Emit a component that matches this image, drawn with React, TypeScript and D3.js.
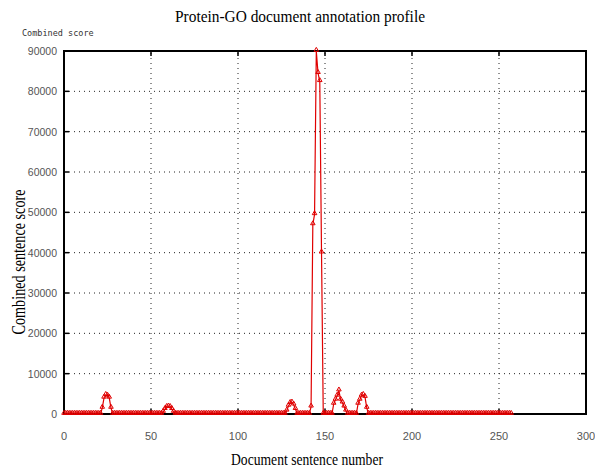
import React, { useEffect, useRef } from 'react';
import * as d3 from 'd3';

// combined sentence score per sentence (index = sentence number 0..257)
const scores: number[] = [
  0, 0, 0, 0, 0, 0, 0, 0, 0, 0, 0, 0, 0, 0, 0, 0, 0, 0, 0, 0,
  0, 0, 1500, 4000, 4700, 4500, 4000, 1500, 0, 0, 0, 0, 0, 0, 0, 0, 0, 0, 0, 0,
  0, 0, 0, 0, 0, 0, 0, 0, 0, 0, 0, 0, 0, 0, 0, 0, 0, 500, 1200, 1700,
  1800, 1700, 1200, 500, 0, 0, 0, 0, 0, 0, 0, 0, 0, 0, 0, 0, 0, 0, 0, 0,
  0, 0, 0, 0, 0, 0, 0, 0, 0, 0, 0, 0, 0, 0, 0, 0, 0, 0, 0, 0,
  0, 0, 0, 0, 0, 0, 0, 0, 0, 0, 0, 0, 0, 0, 0, 0, 0, 0, 0, 0,
  0, 0, 0, 0, 0, 0, 0, 0, 800, 2000, 2700, 2800, 2300, 1200, 0, 0, 0, 0, 0, 0,
  0, 0, 1800, 47000, 49500, 90000, 84500, 82500, 40000, 0, 0, 0, 0, 0, 0, 2500, 3500, 4500, 5800, 3500,
  2800, 1800, 800, 0, 0, 0, 0, 0, 0, 2500, 3500, 4500, 4700, 4200, 1500, 0, 0, 0, 0, 0,
  0, 0, 0, 0, 0, 0, 0, 0, 0, 0, 0, 0, 0, 0, 0, 0, 0, 0, 0, 0,
  0, 0, 0, 0, 0, 0, 0, 0, 0, 0, 0, 0, 0, 0, 0, 0, 0, 0, 0, 0,
  0, 0, 0, 0, 0, 0, 0, 0, 0, 0, 0, 0, 0, 0, 0, 0, 0, 0, 0, 0,
  0, 0, 0, 0, 0, 0, 0, 0, 0, 0, 0, 0, 0, 0, 0, 0, 0, 0,
];

const xTicks = [0, 50, 100, 150, 200, 250, 300];
const yTicks = [0, 10000, 20000, 30000, 40000, 50000, 60000, 70000, 80000, 90000];

const App = () => {
  const svgRef = useRef<SVGSVGElement>(null);

  useEffect(() => {
    if (!svgRef.current) return;
    d3.select(svgRef.current).selectAll('*').remove();

    const width = 595;
    const height = 468;
    const margin = { top: 51, right: 9, bottom: 54, left: 64 };

    const svg = d3.select(svgRef.current)
      .attr('width', width)
      .attr('height', height);

    svg.append('rect')
      .attr('width', width)
      .attr('height', height)
      .attr('fill', '#fff');

    const x = d3.scaleLinear().domain([0, 300]).range([margin.left, width - margin.right]);
    const y = d3.scaleLinear().domain([0, 90000]).range([height - margin.bottom, margin.top]);

    // dotted grid
    const grid = svg.append('g')
      .attr('stroke', '#222')
      .attr('stroke-width', 1)
      .attr('stroke-dasharray', '1,4');
    xTicks.slice(1, -1).forEach(t => {
      grid.append('line')
        .attr('x1', x(t)).attr('x2', x(t))
        .attr('y1', y(0)).attr('y2', y(90000));
    });
    yTicks.slice(1, -1).forEach(t => {
      grid.append('line')
        .attr('x1', x(0)).attr('x2', x(300))
        .attr('y1', y(t)).attr('y2', y(t));
    });

    // frame
    svg.append('rect')
      .attr('x', x(0))
      .attr('y', y(90000))
      .attr('width', x(300) - x(0))
      .attr('height', y(0) - y(90000))
      .attr('fill', 'none')
      .attr('stroke', '#000')
      .attr('stroke-width', 2);

    // ticks
    const ticks = svg.append('g').attr('stroke', '#000').attr('stroke-width', 1.5);
    xTicks.forEach(t => {
      ticks.append('line').attr('x1', x(t)).attr('x2', x(t)).attr('y1', y(0)).attr('y2', y(0) - 5);
      ticks.append('line').attr('x1', x(t)).attr('x2', x(t)).attr('y1', y(90000)).attr('y2', y(90000) + 5);
    });
    yTicks.forEach(t => {
      ticks.append('line').attr('x1', x(0)).attr('x2', x(0) + 5).attr('y1', y(t)).attr('y2', y(t));
      ticks.append('line').attr('x1', x(300)).attr('x2', x(300) - 5).attr('y1', y(t)).attr('y2', y(t));
    });

    // tick labels
    svg.append('g')
      .selectAll('text')
      .data(xTicks)
      .enter()
      .append('text')
      .attr('x', d => x(d))
      .attr('y', y(0) + 26)
      .attr('text-anchor', 'middle')
      .style('font-family', 'Liberation Sans')
      .style('font-size', '11px')
      .attr('fill', '#555')
      .text(d => d);

    svg.append('g')
      .selectAll('text')
      .data(yTicks)
      .enter()
      .append('text')
      .attr('x', x(0) - 7)
      .attr('y', d => y(d) + 4)
      .attr('text-anchor', 'end')
      .style('font-family', 'Liberation Sans')
      .style('font-size', '10.5px')
      .attr('fill', '#555')
      .text(d => d);

    // titles
    svg.append('text')
      .attr('x', 300)
      .attr('y', 22)
      .attr('text-anchor', 'middle')
      .attr('textLength', 250)
      .attr('lengthAdjust', 'spacingAndGlyphs')
      .style('font-family', 'Liberation Serif')
      .style('font-size', '17px')
      .text('Protein-GO document annotation profile');

    svg.append('text')
      .attr('x', 22)
      .attr('y', 36)
      .style('font-family', 'DejaVu Sans Mono')
      .style('font-size', '8.5px')
      .attr('fill', '#333')
      .text('Combined score');

    svg.append('text')
      .attr('x', 307)
      .attr('y', 465)
      .attr('text-anchor', 'middle')
      .attr('textLength', 152)
      .attr('lengthAdjust', 'spacingAndGlyphs')
      .style('font-family', 'Liberation Serif')
      .style('font-size', '17px')
      .text('Document sentence number');

    svg.append('text')
      .attr('transform', 'translate(25, 262) rotate(-90)')
      .attr('text-anchor', 'middle')
      .attr('textLength', 145)
      .attr('lengthAdjust', 'spacingAndGlyphs')
      .style('font-family', 'Liberation Serif')
      .style('font-size', '19px')
      .text('Combined sentence score');

    // series
    const line = d3.line<number>()
      .x((d, i) => x(i))
      .y(d => y(d));

    svg.append('path')
      .datum(scores)
      .attr('fill', 'none')
      .attr('stroke', '#e00000')
      .attr('stroke-width', 1.2)
      .attr('d', line);

    const marker = d3.symbol().type(d3.symbolTriangle).size(9);
    svg.append('g')
      .selectAll('path')
      .data(scores)
      .enter()
      .append('path')
      .attr('transform', (d, i) => `translate(${x(i)}, ${y(d) - 1})`)
      .attr('d', marker)
      .attr('fill', 'none')
      .attr('stroke', '#e00000')
      .attr('stroke-width', 1);
  }, []);

  return (
    <svg ref={svgRef} style={{ position: 'absolute', left: 0, top: 0, display: 'block' }}></svg>
  );
};

export default App;
